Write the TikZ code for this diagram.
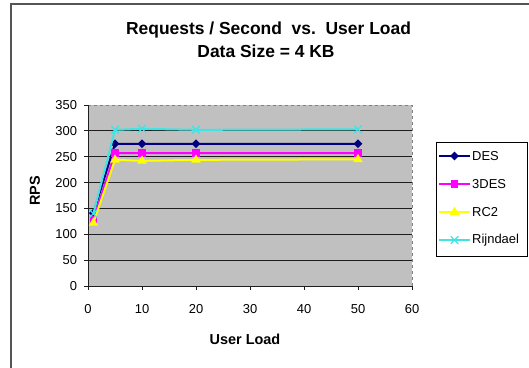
\documentclass[tikz,border=0pt]{standalone}
\usepackage{fontspec}
\setmainfont{Liberation Sans}
\usetikzlibrary{shapes.geometric}

\definecolor{desc}{RGB}{0,0,128}
\definecolor{tdesc}{RGB}{255,0,255}
\definecolor{rcc}{RGB}{255,255,0}
\definecolor{rijc}{RGB}{64,228,228}
\definecolor{plotbg}{RGB}{192,192,192}
\definecolor{outerframe}{RGB}{85,85,85}
\definecolor{gridc}{RGB}{30,30,30}

\tikzset{
  titletext/.style={font=\fontsize{17.5}{20}\selectfont\bfseries, anchor=base},
  axistitle/.style={font=\fontsize{14.5}{17}\selectfont\bfseries},
  ticklabel/.style={font=\fontsize{13}{15}\selectfont, inner sep=0pt},
  legendtext/.style={font=\fontsize{13}{15}\selectfont, anchor=west, inner sep=0pt},
  series/.style={line width=2bp},
  mdes/.style={diamond, fill=desc, inner sep=0pt, minimum size=9bp},
  mtdes/.style={rectangle, fill=tdesc, inner sep=0pt, minimum size=7.5bp},
  mrc/.style={regular polygon, regular polygon sides=3, fill=rcc, inner sep=0pt, minimum size=11bp},
  mrij/.style={inner sep=0pt, minimum size=8bp,
    path picture={\draw[rijc, line width=1.3bp]
      (path picture bounding box.south west) -- (path picture bounding box.north east)
      (path picture bounding box.north west) -- (path picture bounding box.south east);}},
}

\begin{document}
\begin{tikzpicture}[x=1bp, y=1bp]
\useasboundingbox (0,0) rectangle (529,367);

% outer chart frame (runs off the right and bottom edges)
\draw[outerframe, line width=2bp] (11,-5) -- (11,362.5) -- (535,362.5);

% titles
\node[titletext] (title1) at (268.5,333) {Requests / Second\ \ vs.\ \ User Load};
\node[titletext] (title2) at (266,310) {Data Size = 4 KB};

\begin{scope}[shift={(88,81)}, x=5.4bp, y=0.5171bp]
  % plot area
  \fill[plotbg] (0,0) rectangle (60,350);
  \draw[gray, dashed, line width=0.6bp] (0,350) -- (60,350) -- (60,0);
  \foreach \v in {50,100,...,300}
    \draw[gridc, line width=1.2bp] (0,\v) -- (60,\v);
  % axes
  \draw[gridc, line width=0.9bp] (0,350) -- (0,0) -- (60,0);
  \foreach \v in {0,50,...,350} {
    \draw[gridc, line width=0.9bp] (0,\v) -- ++(-4bp,0);
    \node[ticklabel, anchor=east] (yl\v) at (-2,\v) {\v};
  }
  \foreach \v in {0,10,...,60} {
    \draw[gridc, line width=0.9bp] (\v,0) -- ++(0,-4bp);
    \node[ticklabel, anchor=base] (xl\v) at (\v,-53) {\v};
  }

  % data points
  \foreach \s/\a/\b/\c/\d/\e in {des/141/275/275/275/275, tdes/128/257/257/257/257,
                                  rc/122/244/242/244/245, rij/140/302/304/302/303} {
    \coordinate (\s1) at (1,\a);
    \coordinate (\s5) at (5,\b);
    \coordinate (\s10) at (10,\c);
    \coordinate (\s20) at (20,\d);
    \coordinate (\s50) at (50,\e);
  }

  % series: line first, markers on top
  \draw[series, desc] (des1) -- (des5) -- (des10) -- (des20) -- (des50);
  \foreach \p in {1,5,10,20,50} \node[mdes] (mdes\p) at (des\p) {};
  \draw[series, tdesc] (tdes1) -- (tdes5) -- (tdes10) -- (tdes20) -- (tdes50);
  \foreach \p in {1,5,10,20,50} \node[mtdes] (mtdes\p) at (tdes\p) {};
  \draw[series, rcc] (rc1) -- (rc5) -- (rc10) -- (rc20) -- (rc50);
  \foreach \p in {1,5,10,20,50} \node[mrc] (mrc\p) at (rc\p) {};
  \draw[series, rijc] (rij1) -- (rij5) -- (rij10) -- (rij20) -- (rij50);
  \foreach \p in {1,5,10,20,50} \node[mrij] (mrij\p) at (rij\p) {};
\end{scope}

% axis titles
\node[axistitle, rotate=90] (ytitle) at (35,176) {RPS};
\node[axistitle, anchor=base] (xtitle) at (245,23) {User Load};

% legend
\draw[black, line width=0.8bp] (436,111) rectangle (527,225);
\foreach \name/\col/\mk/\yy/\lab in {des/desc/mdes/211/DES, tdes/tdesc/mtdes/183/3DES,
                                      rc/rcc/mrc/155/RC2, rij/rijc/mrij/127/Rijndael} {
  \coordinate (lg\name a) at (439,\yy);
  \coordinate (lg\name b) at (470,\yy);
  \draw[series, \col] (lg\name a) -- (lg\name b);
  \node[\mk] (lgm\name) at (454.5,\yy) {};
  \node[legendtext] (lgt\name) at (472,\yy) {\lab};
}
\end{tikzpicture}
\end{document}
